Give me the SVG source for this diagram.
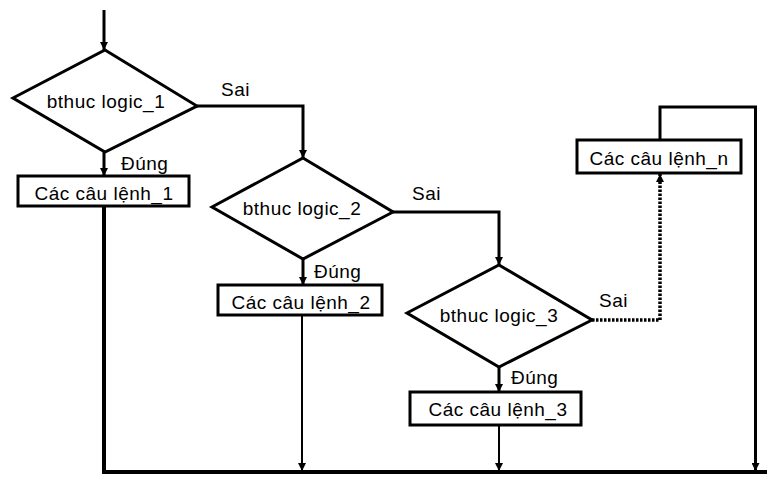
<svg xmlns="http://www.w3.org/2000/svg" width="767" height="498" viewBox="0 0 767 498">
<style>
.shape{fill:#fff;stroke:#000;stroke-width:3}
.ln{fill:none;stroke:#000;stroke-width:3}
.thin{fill:none;stroke:#000;stroke-width:2}
.dot{fill:none;stroke:#000;stroke-width:3.5;stroke-dasharray:2.5 1.5}
text{font-family:"Liberation Sans",Arial,sans-serif;font-size:19px;letter-spacing:0.5px;fill:#000}
.c{text-anchor:middle}
</style>
<defs>
<marker id="ah" viewBox="0 0 10 10" refX="10" refY="5" markerWidth="8" markerHeight="8" markerUnits="userSpaceOnUse" orient="auto">
<path d="M0,0 L10,5 L0,10 z" fill="#000"/>
</marker>
</defs>
<rect width="767" height="498" fill="#fff"/>
<g id="connectors">
<path class="ln" d="M104,10 V50" marker-end="url(#ah)"/>
<path class="ln" d="M104,152 V176" marker-end="url(#ah)"/>
<path class="ln" d="M197,106 H303 V158" marker-end="url(#ah)"/>
<path class="ln" d="M303,259 V285" marker-end="url(#ah)"/>
<path class="ln" d="M393,212 H499 V265" marker-end="url(#ah)"/>
<path class="ln" d="M499,367 V392" marker-end="url(#ah)"/>
<path class="dot" d="M592,320 H660 V174" marker-end="url(#ah)"/>
<path class="ln" d="M104,206 V472 H767" style="stroke-width:4"/>
<path class="thin" d="M302,315 V471" marker-end="url(#ah)"/>
<path class="thin" d="M499,425 V471" marker-end="url(#ah)"/>
<path class="ln" d="M660,140 V107 H755.5 V471" marker-end="url(#ah)"/>
</g>
<g id="d1">
<polygon class="shape" points="105,50 197,106 105,152 13,98"/>
<text class="c" x="106" y="108">bthuc logic_1</text>
</g>
<g id="r1">
<rect class="shape" x="18" y="176" width="171" height="30"/>
<text class="c" x="104" y="200">Các câu lệnh_1</text>
</g>
<g id="d2">
<polygon class="shape" points="303,158 393,212 303,259 212,207"/>
<text class="c" x="302" y="215">bthuc logic_2</text>
</g>
<g id="r2">
<rect class="shape" x="218" y="285" width="164" height="30"/>
<text class="c" x="301" y="309">Các câu lệnh_2</text>
</g>
<g id="d3">
<polygon class="shape" points="499,265 592,320 499,367 407,313"/>
<text class="c" x="499" y="322">bthuc logic_3</text>
</g>
<g id="r3">
<rect class="shape" x="410" y="392" width="171" height="33"/>
<text class="c" x="498" y="416">Các câu lệnh_3</text>
</g>
<g id="rn">
<rect class="shape" x="577" y="140" width="164" height="33"/>
<text class="c" x="659" y="165">Các câu lệnh_n</text>
</g>
<g id="labels">
<text x="221" y="96">Sai</text>
<text x="121" y="170">Đúng</text>
<text x="412" y="200">Sai</text>
<text x="314" y="278">Đúng</text>
<text x="599" y="307">Sai</text>
<text x="511" y="384">Đúng</text>
</g>
</svg>
